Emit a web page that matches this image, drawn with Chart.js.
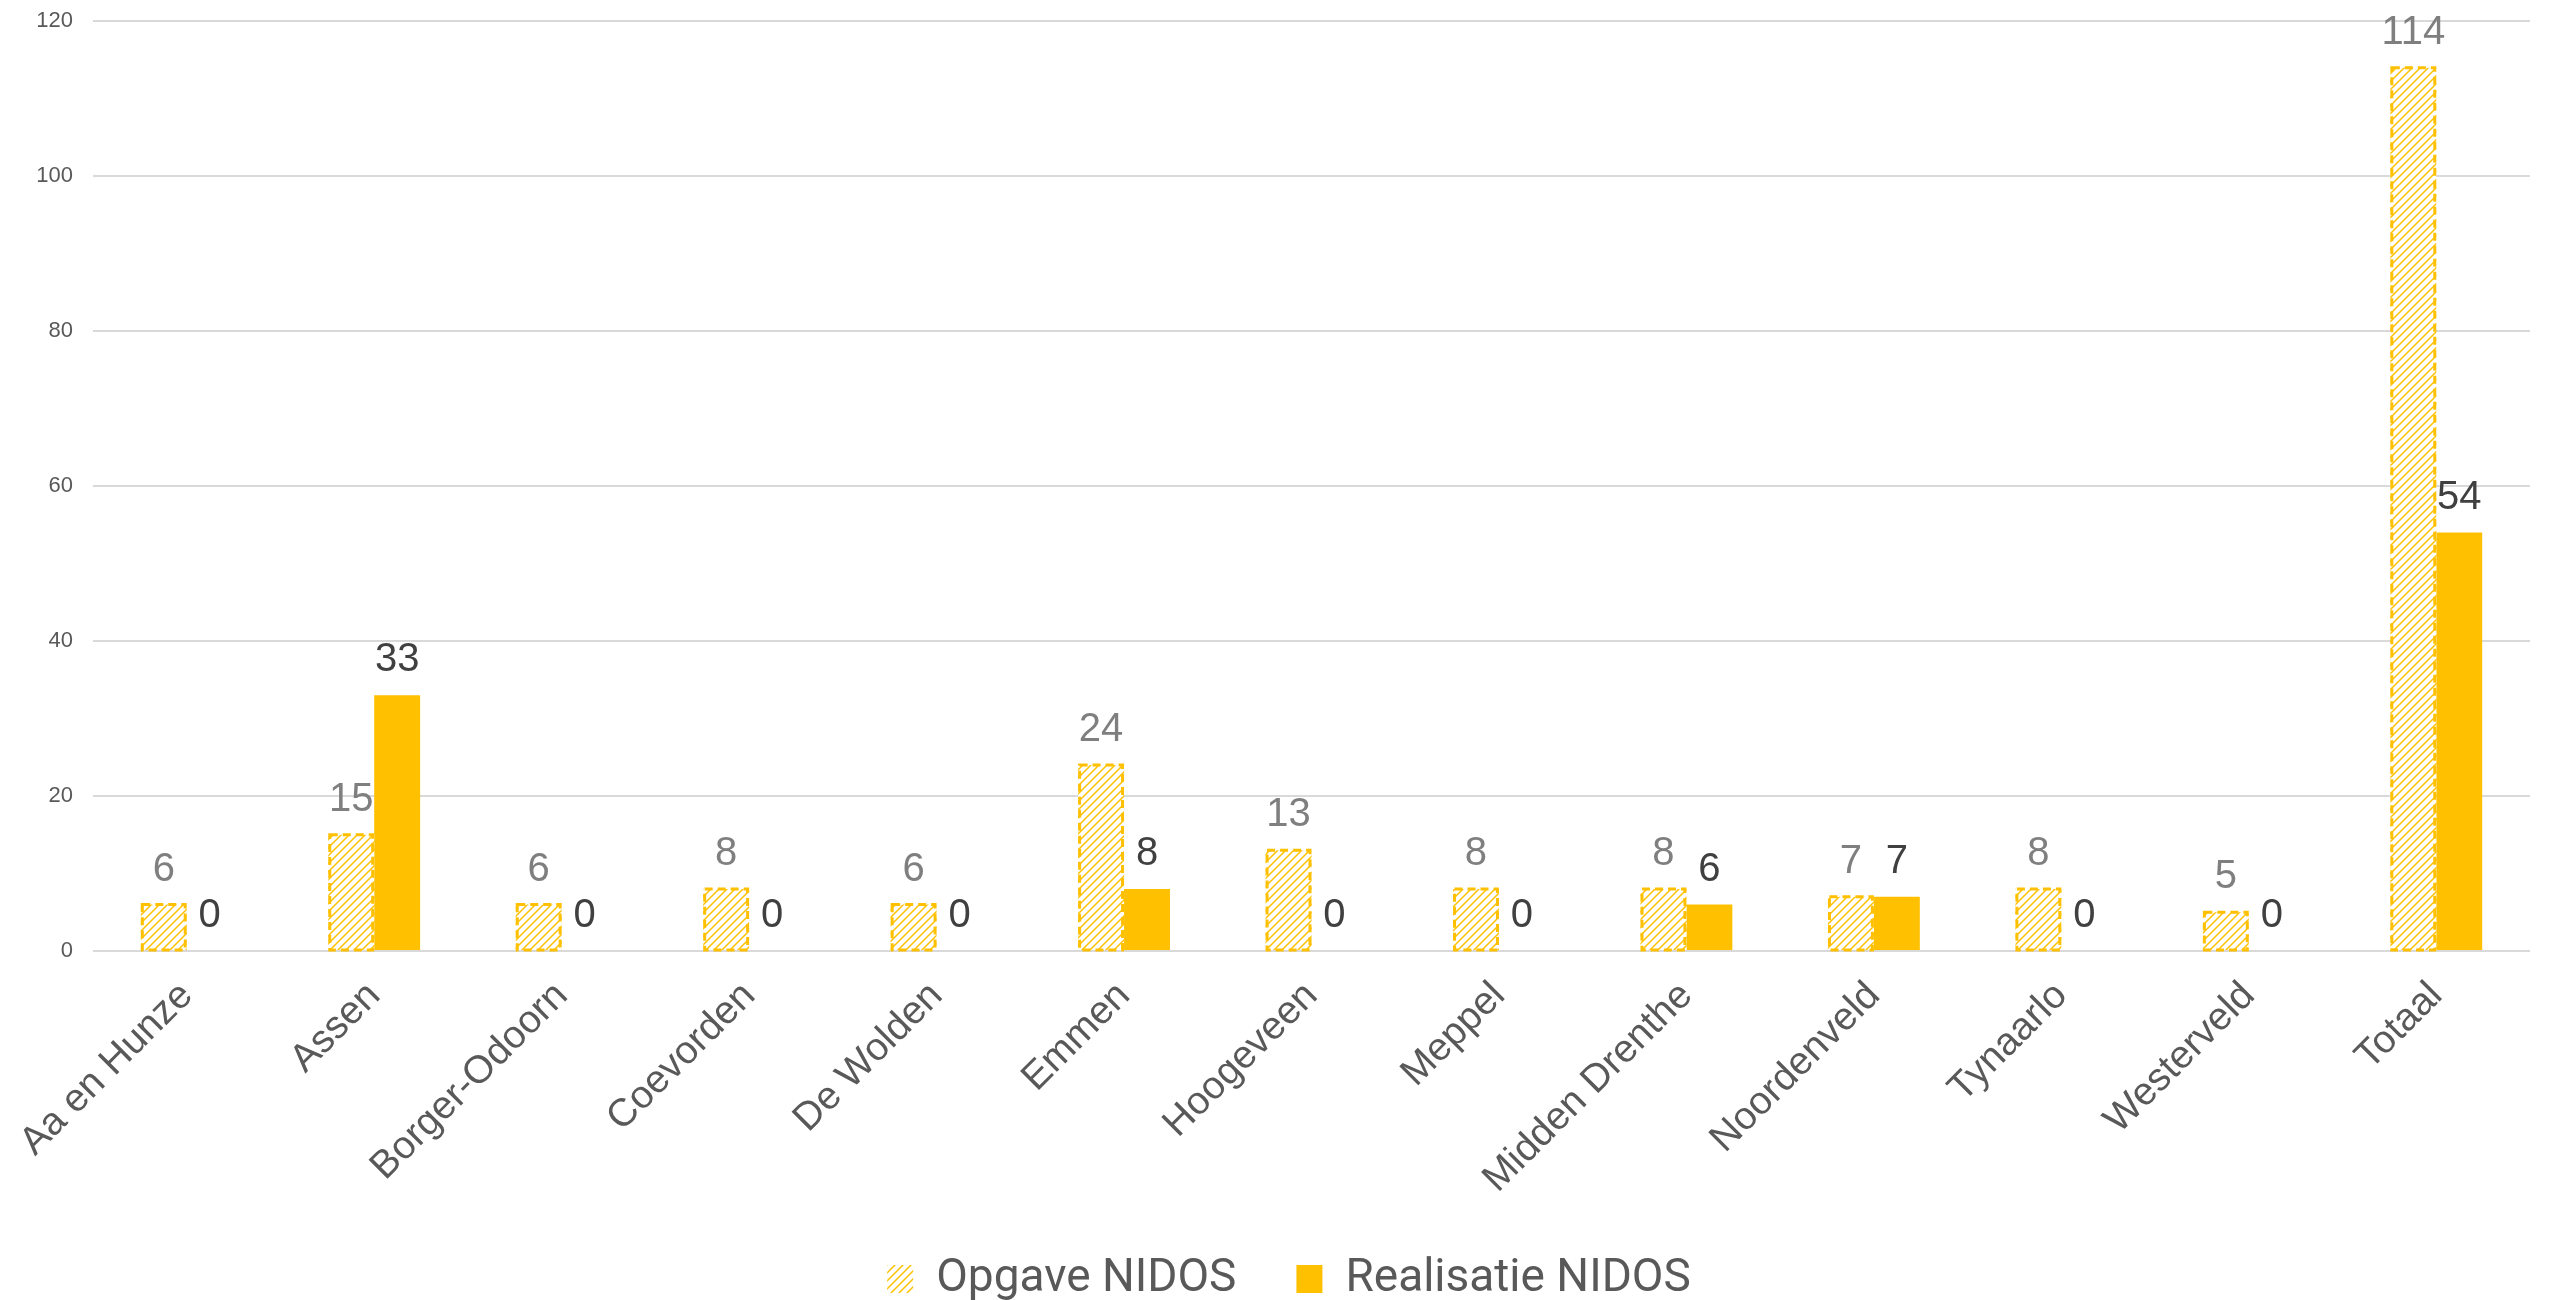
<!DOCTYPE html>
<html>
<head>
<meta charset="utf-8">
<title>NIDOS</title>
<script src="https://cdn.jsdelivr.net/npm/chart.js@4.4.1/dist/chart.umd.min.js"></script>
<style>
    body { margin: 0; background: #ffffff; }
    canvas { display: block; }
</style>
</head>
<body>
<canvas id="myChart" width="2552" height="1300"></canvas>
<script>
// Gemeenten (categorie-as)
const gemeenten = ['Aa en Hunze', 'Assen', 'Borger-Odoorn', 'Coevorden', 'De Wolden', 'Emmen',
    'Hoogeveen', 'Meppel', 'Midden Drenthe', 'Noordenveld', 'Tynaarlo', 'Westerveld', 'Totaal'];

// Waarden per reeks
const opgaveNidos = [6, 15, 6, 8, 6, 24, 13, 8, 8, 7, 8, 5, 114];
const realisatieNidos = [0, 33, 0, 0, 0, 8, 0, 0, 6, 7, 0, 0, 54];

// Labels van de reeksen
const reeksNamen = ['Opgave NIDOS', 'Realisatie NIDOS'];

const geel = '#FFC000';

// Arcering voor de opgave-balken
function maakArcering() {
    const c = document.createElement('canvas');
    c.width = 8;
    c.height = 8;
    const g = c.getContext('2d');
    g.fillStyle = '#ffffff';
    g.fillRect(0, 0, 8, 8);
    g.strokeStyle = geel;
    g.lineWidth = 1.5;
    g.beginPath();
    g.moveTo(0, 8); g.lineTo(8, 0);
    g.moveTo(-2, 2); g.lineTo(2, -2);
    g.moveTo(6, 10); g.lineTo(10, 6);
    g.stroke();
    return g.createPattern(c, 'repeat');
}
const arcering = maakArcering();

// Gestippelde rand om de gearceerde balken
const stippelRand = {
    id: 'stippelRand',
    afterDatasetsDraw(chart) {
        const ctx = chart.ctx;
        const meta = chart.getDatasetMeta(0);
        ctx.save();
        ctx.strokeStyle = geel;
        ctx.lineWidth = 3;
        ctx.setLineDash([8, 5]);
        meta.data.forEach(bar => {
            const b = bar.getProps(['x', 'y', 'base', 'width'], true);
            ctx.strokeRect(b.x - b.width / 2 + 1.5, b.y, b.width - 3, b.base - b.y);
        });
        ctx.restore();
    }
};

// Waardelabels boven de balken
const waardeLabels = {
    id: 'waardeLabels',
    afterDatasetsDraw(chart) {
        const ctx = chart.ctx;
        const kleuren = ['#7F7F7F', '#404040'];
        ctx.save();
        ctx.font = '40px "Liberation Sans", Arial, sans-serif';
        ctx.textAlign = 'center';
        ctx.textBaseline = 'alphabetic';
        chart.data.datasets.forEach((ds, i) => {
            const meta = chart.getDatasetMeta(i);
            ctx.fillStyle = kleuren[i];
            meta.data.forEach((bar, j) => {
                const b = bar.getProps(['x', 'y'], true);
                ctx.fillText(String(ds.data[j]), b.x, b.y - 24);
            });
        });
        ctx.restore();
    }
};

// Legenda iets naar rechts, gecentreerd onder het plotgebied
const legendaVerschuiving = {
    id: 'legendaVerschuiving',
    afterLayout(chart) {
        if (chart.legend) {
            chart.legend.left += 24;
            chart.legend.right += 24;
        }
    }
};

const ctx = document.getElementById('myChart').getContext('2d');
new Chart(ctx, {
    type: 'bar',
    data: {
        labels: gemeenten,
        datasets: [
            {
                label: reeksNamen[0],
                data: opgaveNidos,
                backgroundColor: arcering,
                borderWidth: 0
            },
            {
                label: reeksNamen[1],
                data: realisatieNidos,
                backgroundColor: geel,
                borderWidth: 0
            }
        ]
    },
    options: {
        responsive: false,
        animation: false,
        layout: {
            padding: { top: 0, right: 22, left: 0, bottom: -12 }
        },
        datasets: {
            bar: {
                barPercentage: 1,
                categoryPercentage: 0.49
            }
        },
        scales: {
            x: {
                grid: { display: false },
                border: { display: false },
                ticks: {
                    color: '#595959',
                    font: { family: '"Liberation Sans", Arial, sans-serif', size: 39 },
                    minRotation: 45,
                    maxRotation: 45,
                    autoSkip: false,
                    padding: 14
                },
                afterFit(scale) {
                    scale.height = 245;
                }
            },
            y: {
                min: 0,
                max: 120,
                ticks: {
                    stepSize: 20,
                    color: '#595959',
                    font: { family: '"Liberation Sans", Arial, sans-serif', size: 22 },
                    padding: 8
                },
                grid: {
                    color: '#D9D9D9',
                    lineWidth: 2,
                    drawTicks: true,
                    tickLength: 12,
                    tickColor: 'rgba(0,0,0,0)'
                },
                border: { display: false },
                afterFit(scale) {
                    scale.width = 93;
                }
            }
        },
        plugins: {
            legend: {
                position: 'bottom',
                labels: {
                    color: '#595959',
                    font: { family: 'Roboto, sans-serif', size: 46 },
                    boxWidth: 26,
                    boxHeight: 28,
                    padding: 60
                }
            },
            tooltip: { enabled: false }
        }
    },
    plugins: [stippelRand, waardeLabels, legendaVerschuiving]
});
</script>
</body>
</html>
